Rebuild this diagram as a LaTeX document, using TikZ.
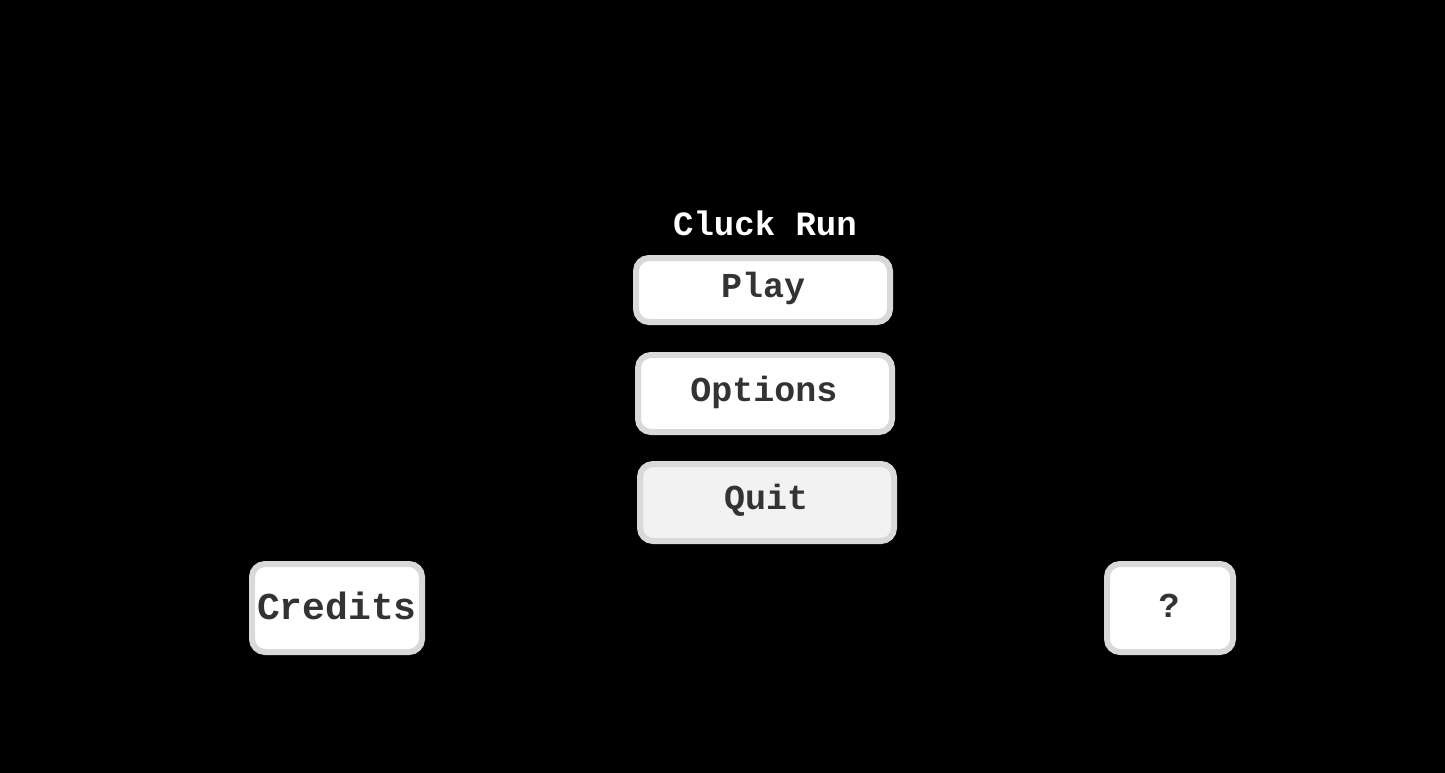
\documentclass[tikz,border=0pt]{standalone}
\usepackage{fontspec}
\setmonofont{Liberation Mono}
\definecolor{btnborder}{HTML}{D9D9D9}
\definecolor{btntext}{HTML}{333333}
\definecolor{quitfill}{HTML}{F2F2F2}
\tikzset{
  btn/.style={draw=btnborder, line width=6pt, fill=white, rounded corners=13pt},
  btnlabel/.style={text=btntext, font=\ttfamily\bfseries\fontsize{35}{35}\selectfont, inner sep=0pt, anchor=center},
  titlelabel/.style={text=white, font=\ttfamily\bfseries\fontsize{34}{34}\selectfont, inner sep=0pt, anchor=center}
}
\begin{document}
\begin{tikzpicture}[x=1pt,y=-1pt]
\fill[black] (0,0) rectangle (1445,773);
\useasboundingbox (0,0) rectangle (1445,773);
\node[titlelabel] (title) at (765,223) {Cluck Run};
\draw[btn] (636,258) rectangle (890,322);
\node[btnlabel] (play) at (763,288) {Play};
\draw[btn] (638,355) rectangle (892,432);
\node[btnlabel] (options) at (764,392) {Options};
\draw[btn, fill=quitfill] (640,464) rectangle (894,541);
\node[btnlabel] (quit) at (766,500) {Quit};
\draw[btn] (252,564) rectangle (422,652);
\node[btnlabel, font=\ttfamily\bfseries\fontsize{38}{38}\selectfont] (credits) at (337,606) {Credits};
\draw[btn] (1107,564) rectangle (1233,652);
\node[btnlabel] (help) at (1169,606) {?};
\end{tikzpicture}
\end{document}
